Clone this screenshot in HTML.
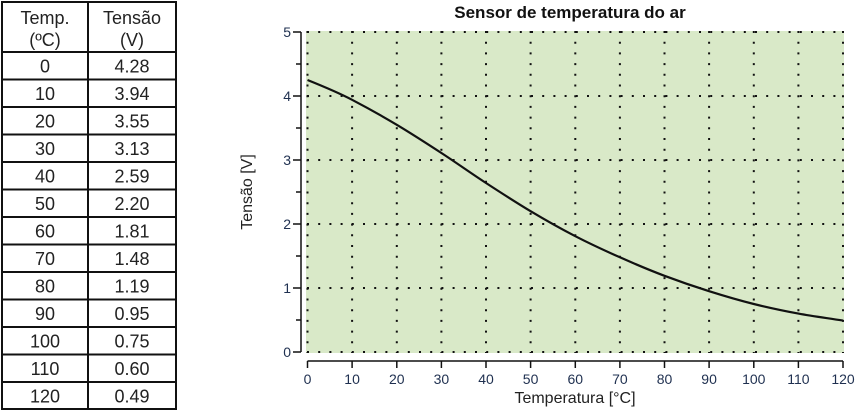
<!DOCTYPE html>
<html><head><meta charset="utf-8"><style>
html,body{margin:0;padding:0;background:#fff;}
svg{display:block;font-family:"Liberation Sans",sans-serif;}
</style></head><body>
<svg width="858" height="411" viewBox="0 0 858 411" xmlns="http://www.w3.org/2000/svg">
<g stroke="#111" stroke-width="2" fill="none">
<rect x="2" y="2" width="174" height="407"/>
<line x1="88" y1="2" x2="88" y2="409"/>
<line x1="2" y1="52" x2="176" y2="52"/>
<line x1="2" y1="79.5" x2="176" y2="79.5"/>
<line x1="2" y1="107" x2="176" y2="107"/>
<line x1="2" y1="134.5" x2="176" y2="134.5"/>
<line x1="2" y1="162" x2="176" y2="162"/>
<line x1="2" y1="189.5" x2="176" y2="189.5"/>
<line x1="2" y1="217" x2="176" y2="217"/>
<line x1="2" y1="244.5" x2="176" y2="244.5"/>
<line x1="2" y1="272" x2="176" y2="272"/>
<line x1="2" y1="299.5" x2="176" y2="299.5"/>
<line x1="2" y1="327" x2="176" y2="327"/>
<line x1="2" y1="354.5" x2="176" y2="354.5"/>
<line x1="2" y1="382" x2="176" y2="382"/>
</g>
<g fill="#222" font-size="18" text-anchor="middle">
<text x="45" y="24">Temp.</text><text x="45" y="46">(ºC)</text>
<text x="132" y="24">Tensão</text><text x="132" y="46">(V)</text>
<text x="45" y="72.5">0</text><text x="132" y="72.5">4.28</text>
<text x="45" y="100">10</text><text x="132" y="100">3.94</text>
<text x="45" y="127.5">20</text><text x="132" y="127.5">3.55</text>
<text x="45" y="155">30</text><text x="132" y="155">3.13</text>
<text x="45" y="182.5">40</text><text x="132" y="182.5">2.59</text>
<text x="45" y="210">50</text><text x="132" y="210">2.20</text>
<text x="45" y="237.5">60</text><text x="132" y="237.5">1.81</text>
<text x="45" y="265">70</text><text x="132" y="265">1.48</text>
<text x="45" y="292.5">80</text><text x="132" y="292.5">1.19</text>
<text x="45" y="320">90</text><text x="132" y="320">0.95</text>
<text x="45" y="347.5">100</text><text x="132" y="347.5">0.75</text>
<text x="45" y="375">110</text><text x="132" y="375">0.60</text>
<text x="45" y="402.5">120</text><text x="132" y="402.5">0.49</text>
</g>
<text x="570" y="18" font-size="17" font-weight="bold" text-anchor="middle" fill="#111">Sensor de temperatura do ar</text>
<rect x="306" y="31" width="538" height="322" fill="#d9e9c8"/>
<g stroke="#111" stroke-width="2" stroke-dasharray="2 9.2">
<line x1="307" y1="32" x2="844" y2="32"/>
<line x1="307" y1="96" x2="844" y2="96"/>
<line x1="307" y1="160" x2="844" y2="160"/>
<line x1="307" y1="224" x2="844" y2="224"/>
<line x1="307" y1="288" x2="844" y2="288"/>
<line x1="307" y1="352" x2="844" y2="352"/>
</g>
<g stroke="#111" stroke-width="2" stroke-dasharray="2 8.7">
<line x1="307.5" y1="31" x2="307.5" y2="353"/>
<line x1="352.1" y1="31" x2="352.1" y2="353"/>
<line x1="396.8" y1="31" x2="396.8" y2="353"/>
<line x1="441.4" y1="31" x2="441.4" y2="353"/>
<line x1="486" y1="31" x2="486" y2="353"/>
<line x1="530.6" y1="31" x2="530.6" y2="353"/>
<line x1="575.3" y1="31" x2="575.3" y2="353"/>
<line x1="619.9" y1="31" x2="619.9" y2="353"/>
<line x1="664.5" y1="31" x2="664.5" y2="353"/>
<line x1="709.1" y1="31" x2="709.1" y2="353"/>
<line x1="753.8" y1="31" x2="753.8" y2="353"/>
<line x1="798.4" y1="31" x2="798.4" y2="353"/>
<line x1="843" y1="31" x2="843" y2="353"/>
</g>
<g stroke="#111" stroke-width="1.5" fill="none">
<line x1="301" y1="32" x2="301" y2="352"/>
<line x1="293" y1="32" x2="301" y2="32"/><line x1="293" y1="96" x2="301" y2="96"/>
<line x1="293" y1="160" x2="301" y2="160"/><line x1="293" y1="224" x2="301" y2="224"/>
<line x1="293" y1="288" x2="301" y2="288"/><line x1="293" y1="352" x2="301" y2="352"/>
<line x1="296" y1="64" x2="301" y2="64"/><line x1="296" y1="128" x2="301" y2="128"/>
<line x1="296" y1="192" x2="301" y2="192"/><line x1="296" y1="256" x2="301" y2="256"/>
<line x1="296" y1="320" x2="301" y2="320"/>
<line x1="307.5" y1="361" x2="843" y2="361"/>
<line x1="307.5" y1="361" x2="307.5" y2="368"/><line x1="352.1" y1="361" x2="352.1" y2="368"/>
<line x1="396.8" y1="361" x2="396.8" y2="368"/><line x1="441.4" y1="361" x2="441.4" y2="368"/>
<line x1="486" y1="361" x2="486" y2="368"/><line x1="530.6" y1="361" x2="530.6" y2="368"/>
<line x1="575.3" y1="361" x2="575.3" y2="368"/><line x1="619.9" y1="361" x2="619.9" y2="368"/>
<line x1="664.5" y1="361" x2="664.5" y2="368"/><line x1="709.1" y1="361" x2="709.1" y2="368"/>
<line x1="753.8" y1="361" x2="753.8" y2="368"/><line x1="798.4" y1="361" x2="798.4" y2="368"/>
<line x1="843" y1="361" x2="843" y2="368"/>
</g>
<g fill="#1f3050" font-size="14" text-anchor="end">
<text x="291" y="37">5</text><text x="291" y="101">4</text><text x="291" y="165">3</text>
<text x="291" y="229">2</text><text x="291" y="293">1</text><text x="291" y="357">0</text>
</g>
<g fill="#1f3050" font-size="14" text-anchor="middle">
<text x="307.5" y="384">0</text><text x="352.1" y="384">10</text><text x="396.8" y="384">20</text>
<text x="441.4" y="384">30</text><text x="486" y="384">40</text><text x="530.6" y="384">50</text>
<text x="575.3" y="384">60</text><text x="619.9" y="384">70</text><text x="664.5" y="384">80</text>
<text x="709.1" y="384">90</text><text x="753.8" y="384">100</text><text x="798.4" y="384">110</text>
<text x="843" y="384">120</text>
</g>
<text x="575" y="403" font-size="16" text-anchor="middle" fill="#222">Temperatura [°C]</text>
<text transform="translate(252,192) rotate(-90)" font-size="16" text-anchor="middle" fill="#222">Tensão [V]</text>
<path d="M307.5,80 C322.4,86 337.2,92 352.1,99.8 C367,107.6 381.9,115.9 396.8,124.8 C411.7,133.7 426.5,143.3 441.4,153 C456.3,162.7 471.1,173.3 486,183 C500.9,192.7 515.7,202.3 530.6,211.2 C545.5,220.1 560.4,228.5 575.3,236.2 C590.2,243.9 605,250.7 619.9,257.3 C634.8,263.9 649.6,270.2 664.5,275.8 C679.4,281.4 694.2,286.5 709.1,291.2 C724,295.9 738.9,300.3 753.8,304 C768.7,307.7 783.5,310.8 798.4,313.6 C813.3,316.4 828.1,318.2 843,320.6" fill="none" stroke="#111" stroke-width="2.2"/>
</svg>
</body></html>
